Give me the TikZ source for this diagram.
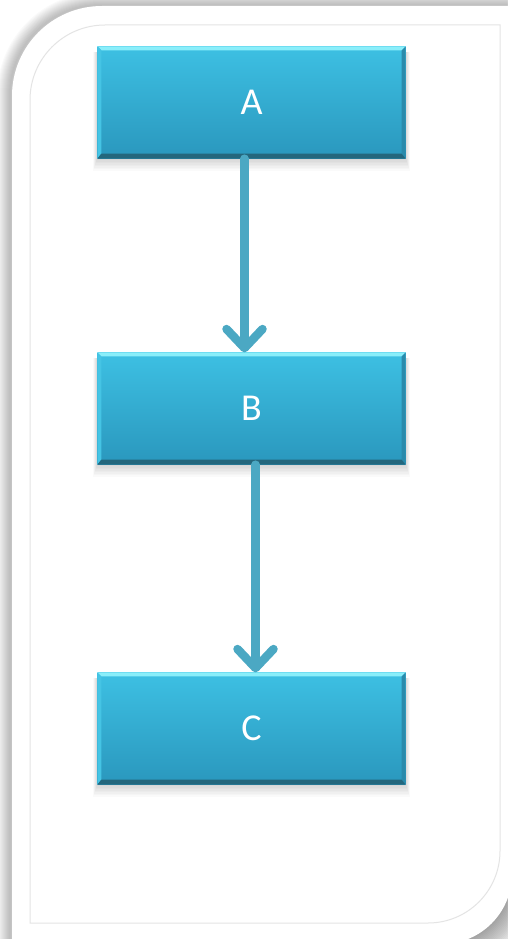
\documentclass[tikz,border=0pt]{standalone}
\usepackage{fontspec}
\setmainfont{Carlito}
\usetikzlibrary{arrows.meta,calc}

\definecolor{boxtop}{HTML}{3DC0E3}
\definecolor{boxbot}{HTML}{2A97BD}
\definecolor{bevlight}{HTML}{8AEEFA}
\definecolor{bevleft}{HTML}{45C4E4}
\definecolor{bevdark}{HTML}{24677D}
\definecolor{bevright}{HTML}{2A8AAB}
\definecolor{flowc}{HTML}{4BA8C3}
\definecolor{rulec}{HTML}{E4E4E4}

\pgfdeclarelayer{card}
\pgfdeclarelayer{shade}
\pgfsetlayers{card,shade,main}

\tikzset{
  stepbox/.style={rectangle, minimum width=308pt, minimum height=112pt,
    inner sep=0pt, top color=boxtop, bottom color=boxbot, draw=none,
    text=white, font=\fontsize{38}{38}\selectfont},
  flow/.style={draw=flowc, line width=8.5pt, line cap=round, line join=round,
    -{Straight Barb[length=19pt, width=36pt, line cap=round, line join=round]}},
  cardshadow/.style={black, opacity=0.018},
}

\begin{document}
\begin{tikzpicture}[x=1pt, y=-1pt]
\useasboundingbox (0,0) rectangle (507,939);

% boxes
\node[stepbox] (A) at (251.5,102.5) {A};
\node[stepbox] (B) at (251.5,408.5) {B};
\node[stepbox] (C) at (251.5,728.5) {C};

% bevelled edges
\foreach \n in {A,B,C} {
  \fill[bevlight] (\n.north west) -- (\n.north east)
    -- ([shift={(-4,4)}]\n.north east) -- ([shift={(4,4)}]\n.north west) -- cycle;
  \fill[bevleft] (\n.north west) -- ([shift={(4,4)}]\n.north west)
    -- ([shift={(4,-5)}]\n.south west) -- (\n.south west) -- cycle;
  \fill[bevright] (\n.north east) -- ([shift={(-4,4)}]\n.north east)
    -- ([shift={(-4,-5)}]\n.south east) -- (\n.south east) -- cycle;
  \fill[bevdark] (\n.south west) -- (\n.south east)
    -- ([shift={(-4,-5)}]\n.south east) -- ([shift={(4,-5)}]\n.south west) -- cycle;
}

% connectors
\draw[flow] ([xshift=-7pt]A.south) -- ([xshift=-7pt]B.north);
\draw[flow] ([xshift=4pt]B.south) -- ([xshift=4pt]C.north);

% soft shadows under the boxes
\begin{pgfonlayer}{shade}
  \foreach \n in {A,B,C} {
    \foreach \k in {1,...,8} {
      \fill[black, opacity=0.02]
        ([shift={(-0.5*\k,6)}]\n.north west)
        rectangle ([shift={(0.5*\k,1.5*\k)}]\n.south east);
    }
  }
\end{pgfonlayer}

% card with two rounded corners, its shadow and inner rule
\begin{pgfonlayer}{card}
  \fill[white] (0,0) rectangle (507,939);
  \foreach \k in {1,...,13} {
    \draw[cardshadow, line width=2*\k pt]
      (10,990) -- (10,95) arc[start angle=180, end angle=270, radius=90]
      -- (560,5);
  }
  \foreach \k in {1,...,20} {
    \draw[cardshadow, line width=3*\k pt]
      (512,874) arc[start angle=0, end angle=90, radius=70];
  }
  \fill[white]
    (12,990) -- (12,96) arc[start angle=180, end angle=270, radius=90]
    -- (560,6) -- (560,800) -- (512,800) -- (512,874)
    arc[start angle=0, end angle=90, radius=70] -- (442,990) -- cycle;
  \draw[rulec, line width=1pt]
    (30,923) -- (30,100) arc[start angle=180, end angle=270, radius=75]
    -- (500,25) -- (500,851) arc[start angle=0, end angle=90, radius=72]
    -- cycle;
\end{pgfonlayer}
\end{tikzpicture}
\end{document}
